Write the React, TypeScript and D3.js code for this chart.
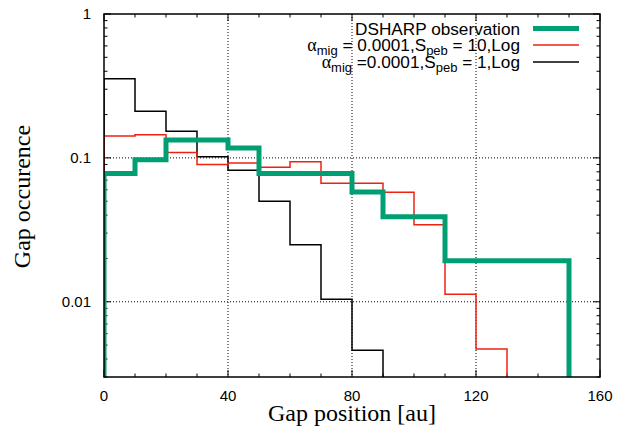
import React from 'react';
import * as d3 from 'd3';

// bin width 10 au, bins start at 0
const binWidth = 10;
const dsharp = [0.078, 0.097, 0.133, 0.133, 0.117, 0.078, 0.078, 0.078, 0.058, 0.039, 0.039, 0.0193, 0.0193, 0.0193, 0.0193];
const peb10 = [0.142, 0.145, 0.109, 0.09, 0.092, 0.086, 0.094, 0.0667, 0.0667, 0.0578, 0.0343, 0.0113, 0.0047];
const peb1 = [0.355, 0.211, 0.153, 0.102, 0.082, 0.05, 0.0249, 0.0104, 0.0046];

const xTicks = [0, 40, 80, 120, 160];
const yTicks = [1, 0.1, 0.01];
const yTickLabels = ['1', '0.1', '0.01'];

const W = 627;
const H = 437;
const margin = { top: 14, right: 27, bottom: 60, left: 104 };

const stepPoints = (vals: number[], floor: number): [number, number][] => {
  const pts: [number, number][] = [[0, floor]];
  vals.forEach((v, i) => {
    pts.push([i * binWidth, v]);
    pts.push([(i + 1) * binWidth, v]);
  });
  pts.push([vals.length * binWidth, floor]);
  return pts;
};

const App = () => {
  const innerW = W - margin.left - margin.right;
  const innerH = H - margin.top - margin.bottom;
  const yMin = 0.003;

  const x = d3.scaleLinear().domain([0, 160]).range([margin.left, margin.left + innerW]);
  const y = d3.scaleLog().domain([yMin, 1]).range([margin.top + innerH, margin.top]);

  const line = d3
    .line<[number, number]>()
    .x(d => x(d[0]))
    .y(d => y(Math.max(d[1], yMin)));

  const minorX = d3.range(0, 161, 10).filter(v => v % 40 !== 0);
  const minorY: number[] = [];
  [0.001, 0.01, 0.1].forEach(dec => {
    for (let k = 2; k <= 9; k++) {
      const v = dec * k;
      if (v >= yMin && v < 1) minorY.push(v);
    }
  });

  const left = margin.left;
  const right = margin.left + innerW;
  const top = margin.top;
  const bottom = margin.top + innerH;

  const series = [
    { vals: peb1, color: '#000000', width: 1.5 },
    { vals: peb10, color: '#ee2211', width: 1.5 },
    { vals: dsharp, color: '#009e73', width: 5 },
  ];

  const legend = [
    { color: '#009e73', width: 5 },
    { color: '#ee2211', width: 1.5 },
    { color: '#000000', width: 1.5 },
  ];
  const legendRows = [28.5, 45, 62];

  const sans = 'Liberation Sans, Arial, sans-serif';
  const serif = 'Liberation Serif, Times New Roman, serif';

  return (
    <svg width={W} height={H} style={{ position: 'absolute', left: 0, top: 0 }}>
      <rect width={W} height={H} fill="#fff" />
      <defs>
        <clipPath id="plot">
          <rect x={left} y={top} width={innerW} height={innerH} />
        </clipPath>
      </defs>

      {/* grid */}
      <g stroke="#000" strokeWidth={1} strokeDasharray="1,2">
        {xTicks.slice(1, -1).map(t => (
          <line key={t} x1={x(t)} x2={x(t)} y1={top} y2={bottom} />
        ))}
        {yTicks.slice(1).map(t => (
          <line key={t} x1={left} x2={right} y1={y(t)} y2={y(t)} />
        ))}
      </g>

      {/* ticks */}
      <g stroke="#000" strokeWidth={1}>
        {xTicks.map(t => (
          <g key={t}>
            <line x1={x(t)} x2={x(t)} y1={bottom} y2={bottom - 7} />
            <line x1={x(t)} x2={x(t)} y1={top} y2={top + 7} />
          </g>
        ))}
        {minorX.map(t => (
          <g key={t}>
            <line x1={x(t)} x2={x(t)} y1={bottom} y2={bottom - 3.5} />
            <line x1={x(t)} x2={x(t)} y1={top} y2={top + 3.5} />
          </g>
        ))}
        {yTicks.map(t => (
          <g key={t}>
            <line x1={left} x2={left + 7} y1={y(t)} y2={y(t)} />
            <line x1={right} x2={right - 7} y1={y(t)} y2={y(t)} />
          </g>
        ))}
        {minorY.map(t => (
          <g key={t}>
            <line x1={left} x2={left + 3.5} y1={y(t)} y2={y(t)} />
            <line x1={right} x2={right - 3.5} y1={y(t)} y2={y(t)} />
          </g>
        ))}
      </g>

      {/* series */}
      <g clipPath="url(#plot)" fill="none">
        {series.map((s, i) => (
          <path key={i} d={line(stepPoints(s.vals, yMin)) || ''} stroke={s.color} strokeWidth={s.width} />
        ))}
      </g>

      {/* frame */}
      <rect x={left} y={top} width={innerW} height={innerH} fill="none" stroke="#000" strokeWidth={1.5} />

      {/* tick labels */}
      <g fontFamily={sans} fontSize={15} fill="#000">
        {xTicks.map(t => (
          <text key={t} x={x(t)} y={bottom + 24} textAnchor="middle">{t}</text>
        ))}
        {yTicks.map((t, i) => (
          <text key={t} x={left - 13} y={y(t) + 5} textAnchor="end">{yTickLabels[i]}</text>
        ))}
      </g>

      {/* axis labels */}
      <text x={(left + right) / 2} y={421} textAnchor="middle" fontFamily={serif} fontSize={24}>
        Gap position [au]
      </text>
      <text
        transform={`translate(30, ${(top + bottom) / 2 + 1}) rotate(-90)`}
        textAnchor="middle"
        fontFamily={serif}
        fontSize={24}
      >
        Gap occurence
      </text>

      {/* legend */}
      <g fontFamily={sans} fontSize={17.2} fill="#000">
        <text x={520} y={legendRows[0] + 6} textAnchor="end">DSHARP observation</text>
        <text x={520} y={legendRows[1] + 6} textAnchor="end">
          <tspan fontFamily={serif} fontSize={18}>α</tspan>
          <tspan fontSize={13} dy={4}>mig</tspan>
          <tspan dy={-4}> = 0.0001,S</tspan>
          <tspan fontSize={13} dy={4}>peb</tspan>
          <tspan dy={-4}> = 10,Log</tspan>
        </text>
        <text x={520} y={legendRows[2] + 6} textAnchor="end">
          <tspan fontFamily={serif} fontSize={18}>α</tspan>
          <tspan fontSize={13} dy={4}>mig</tspan>
          <tspan dy={-4}> =0.0001,S</tspan>
          <tspan fontSize={13} dy={4}>peb</tspan>
          <tspan dy={-4}> = 1,Log</tspan>
        </text>
      </g>
      {legend.map((l, i) => (
        <line key={i} x1={533} x2={579} y1={legendRows[i]} y2={legendRows[i]} stroke={l.color} strokeWidth={l.width} />
      ))}
    </svg>
  );
};

export default App;
